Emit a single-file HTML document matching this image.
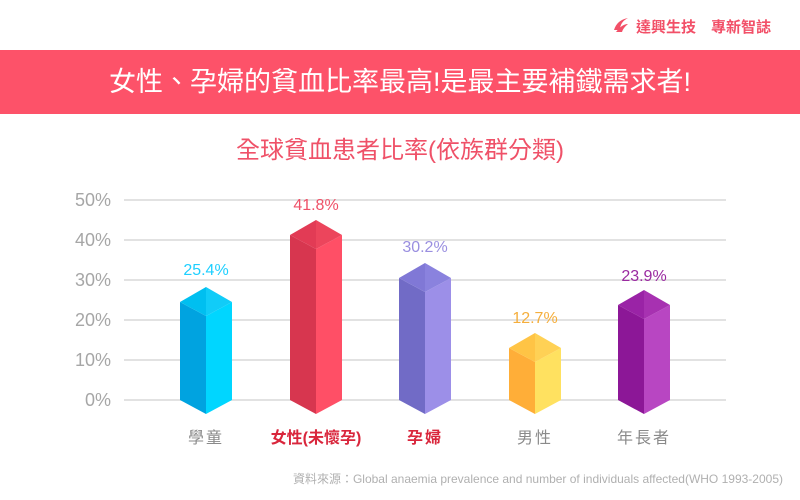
<!DOCTYPE html>
<html><head><meta charset="utf-8"><style>
body{margin:0;width:800px;height:500px;background:#fff;overflow:hidden}
svg{display:block}
</style></head><body>
<svg width="800" height="500" xmlns="http://www.w3.org/2000/svg" font-family="Liberation Sans, Noto Sans CJK TC, sans-serif">
<g fill="#f25068" font-size="15" font-weight="bold"><text x="771" y="32" text-anchor="end">達興生技　專新智誌</text></g>
<path d="M614 30 q3 -10 14 -12 q-8 4 -8 12 z M616 32 q6 -8 12 -8 q-5 4 -6 8z" fill="#f25068"/>
<rect x="0" y="50" width="800" height="64" fill="#fd5269"/>
<text x="400" y="91" text-anchor="middle" fill="#fff" font-size="27">女性、孕婦的貧血比率最高!是最主要補鐵需求者!</text>
<text x="400" y="158" text-anchor="middle" fill="#ef5168" font-size="24">全球貧血患者比率(依族群分類)</text>
<g stroke="#d9d9d9" stroke-width="1.5">
<line x1="124" y1="200" x2="726" y2="200"/><line x1="124" y1="240" x2="726" y2="240"/>
<line x1="124" y1="280" x2="726" y2="280"/><line x1="124" y1="320" x2="726" y2="320"/>
<line x1="124" y1="360" x2="726" y2="360"/><line x1="124" y1="400" x2="726" y2="400"/>
</g>
<g fill="#a6a6a6" font-size="18" text-anchor="end">
<text x="111" y="206">50%</text><text x="111" y="246">40%</text><text x="111" y="286">30%</text>
<text x="111" y="326">20%</text><text x="111" y="366">10%</text><text x="111" y="406">0%</text>
</g>
<polygon points="180,302 206,316 206,414 180,400" fill="#00a3e0"/>
<polygon points="206,316 232,302 232,400 206,414" fill="#00d6ff"/>
<polygon points="180,302 206,287 206,316" fill="#00bff0"/>
<polygon points="206,287 232,302 206,316" fill="#11ccf8"/>
<polygon points="290,235 316,249 316,414 290,400" fill="#d7364f"/>
<polygon points="316,249 342,235 342,400 316,414" fill="#ff4f66"/>
<polygon points="290,235 316,220 316,249" fill="#e23b55"/>
<polygon points="316,220 342,235 316,249" fill="#ec455c"/>
<polygon points="399,278 425,292 425,414 399,400" fill="#716bc6"/>
<polygon points="425,292 451,278 451,400 425,414" fill="#9c8fe8"/>
<polygon points="399,278 425,263 425,292" fill="#8078d6"/>
<polygon points="425,263 451,278 425,292" fill="#8a82de"/>
<polygon points="509,348 535,362 535,414 509,400" fill="#ffae38"/>
<polygon points="535,362 561,348 561,400 535,414" fill="#ffe160"/>
<polygon points="509,348 535,333 535,362" fill="#ffc445"/>
<polygon points="535,333 561,348 535,362" fill="#ffd155"/>
<polygon points="618,305 644,319 644,414 618,400" fill="#8c1797"/>
<polygon points="644,319 670,305 670,400 644,414" fill="#b846c2"/>
<polygon points="618,305 644,290 644,319" fill="#9a23a6"/>
<polygon points="644,290 670,305 644,319" fill="#a731b1"/>
<g font-size="16" text-anchor="middle">
<text x="206" y="275" fill="#1ecfff">25.4%</text>
<text x="316" y="210" fill="#ef5168">41.8%</text>
<text x="425" y="252" fill="#9a8fe0">30.2%</text>
<text x="535" y="323" fill="#f5ae3c">12.7%</text>
<text x="644" y="281" fill="#9a2aa0">23.9%</text>
</g>
<g font-size="16" text-anchor="middle" letter-spacing="2">
<text x="206" y="443" fill="#8a8a8a">學童</text>
<text x="316" y="443" fill="#d9263c" font-weight="bold" letter-spacing="0">女性(未懷孕)</text>
<text x="425" y="443" fill="#d9263c" font-weight="bold">孕婦</text>
<text x="535" y="443" fill="#8a8a8a">男性</text>
<text x="644" y="443" fill="#8a8a8a">年長者</text>
</g>
<text x="783" y="483" text-anchor="end" fill="#b0b0b0" font-size="12">資料來源：Global anaemia prevalence and number of individuals affected(WHO 1993-2005)</text>
</svg>
</body></html>
